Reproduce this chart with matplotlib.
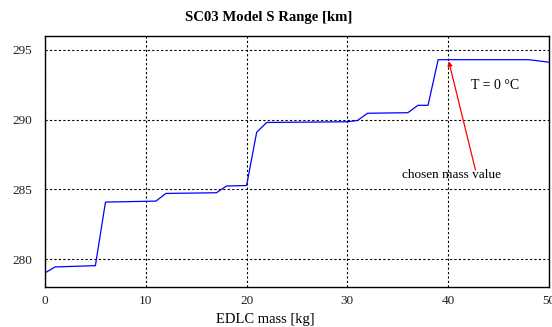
import matplotlib.pyplot as plt

plt.rcParams['font.family'] = ['Liberation Serif', 'DejaVu Serif']

mass_kg = [0, 1, 5, 6, 11, 12, 17, 18, 20, 21, 22, 30, 31, 32, 36, 37, 38, 39, 48, 50]
range_km = [279.01, 279.44, 279.53, 284.09, 284.16, 284.71, 284.76, 285.24, 285.28,
            289.1, 289.8, 289.85, 289.94, 290.46, 290.5, 291.03, 291.03, 294.3, 294.3, 294.12]

fig = plt.figure(figsize=(5.52, 3.27), dpi=100)
ax = fig.add_axes([0.0815, 0.1223, 0.9131, 0.7676])

ax.plot(mass_kg, range_km, color="blue", linewidth=0.9)

ax.set_xlim(0, 50)
ax.set_ylim(278, 296)
ax.set_xticks([0, 10, 20, 30, 40, 50])
ax.set_yticks([280, 285, 290, 295])
ax.grid(True, color="black", linestyle=(0, (2, 2)), linewidth=0.8)
ax.tick_params(direction="in", length=0, labelsize=9.5, labelcolor="#222222")
ax.tick_params(axis="y", pad=9)
ax.tick_params(axis="x", pad=6)
for s in ax.spines.values():
    s.set_linewidth(1.0)

# title and x label sit a bit left of the axes centre in the original
fig.text(269 / 552, 1 - 17.5 / 327, "SC03 Model S Range [km]", fontsize=10.6,
         fontweight="bold", ha="center", va="center")
fig.text(265 / 552, 1 - 319 / 327, "EDLC mass [kg]", fontsize=10.5,
         ha="center", va="center")

ax.text(44.6, 292.45, "T = 0 °C", fontsize=10, ha="center", va="center")
ax.text(40.3, 286.0, "chosen mass value", fontsize=9.5, ha="center", va="center")
ax.annotate("", xy=(40.05, 294.2), xytext=(42.7, 286.4),
            arrowprops=dict(arrowstyle="-|>", color="red", lw=0.9,
                            mutation_scale=7, shrinkA=0, shrinkB=0))

fig.savefig("out.png", dpi=100)
